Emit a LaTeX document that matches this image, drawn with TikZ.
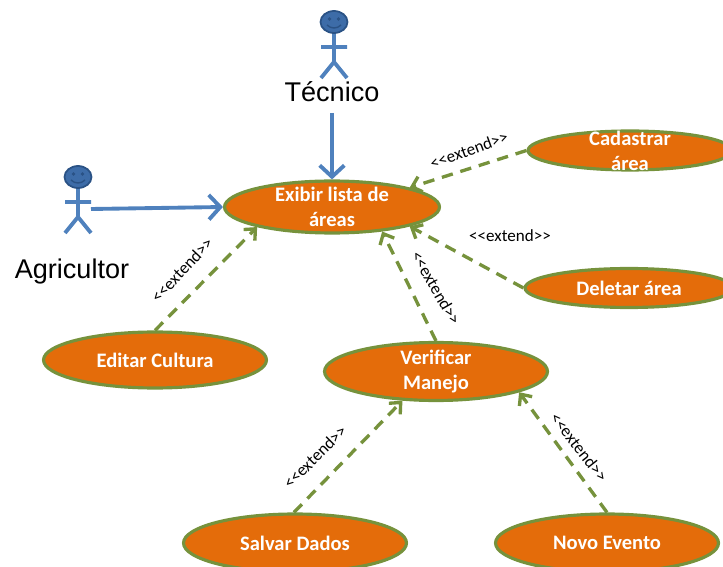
\documentclass[tikz,border=0pt]{standalone}
\usepackage{fontspec}
\setmainfont{Carlito}
\newfontfamily\actorfont{Liberation Sans}
\usetikzlibrary{shapes.geometric}
\usetikzlibrary{arrows.meta}
\definecolor{caseorange}{HTML}{E46C0A}
\definecolor{casegreen}{HTML}{76923C}
\definecolor{actorblue}{HTML}{4F81BD}
\definecolor{headblue}{HTML}{3D6CA8}
\definecolor{headline}{HTML}{2A5285}
\newcommand{\extendtext}{<{}<extend>{}>}
\tikzset{
  usecase/.style={ellipse,draw=casegreen,line width=1.8pt,fill=caseorange,text=white,
    font=\fontsize{11.7}{14.2}\selectfont\bfseries,align=center,inner xsep=0pt,inner ysep=-6pt},
  extendlabel/.style={font=\fontsize{9.7}{11}\selectfont,inner sep=0pt},
  actorname/.style={font=\fontsize{15.4}{18}\selectfont\actorfont,inner sep=0pt},
  extendline/.style={line width=1.9pt,casegreen,dash pattern=on 6.5pt off 4.5pt,
    -{Straight Barb[length=5pt,width=9pt,line width=1.9pt]}},
  actorline/.style={line width=2.2pt,actorblue,
    -{Straight Barb[length=6.5pt,width=14pt,line width=2.2pt]}},
  actor/.pic={
    \draw[line width=2.2pt,actorblue] (0,11) -- (0,40) (-13,25) -- (13,25)
      (-13,56) -- (0,40) -- (13,56);
    \draw[line width=1pt,draw=headline,fill=headblue] (0,0) ellipse (13.5 and 11);
    \fill[headline] (-4.5,-3) circle (1.8) (4.5,-3) circle (1.8);
    \draw[line width=0.8pt,headline] (-7,3) .. controls (-3,7) and (3,7) .. (7,3);
  }
}
\begin{document}
\begin{tikzpicture}[x=0.02cm,y=-0.02cm]
\useasboundingbox (0,0) rectangle (723,567);
\clip (0,0) rectangle (723,567);
%%%%%actors
\pic (tecnico) at (334,22) {actor};
\pic (agricultor) at (78,177) {actor};
\node[actorname] (tecniconame) at (332,92) {Técnico};
\node[actorname] (agricultorname) at (72,272) {Agricultor};
\coordinate (tecnicofoot) at (332,113);
\coordinate (agricultorhand) at (91,209);
%%%%%use cases
\node[usecase,minimum width=4.3cm,minimum height=1.04cm] (exibir) at (332,207) {Exibir lista de\\áreas};
\node[usecase,minimum width=4.08cm,minimum height=0.78cm] (cadastrar) at (630,150.5) {Cadastrar\\área};
\node[usecase,minimum width=4.16cm,minimum height=0.78cm] (deletar) at (629,288) {Deletar área};
\node[usecase,minimum width=4.46cm,minimum height=1.12cm] (editar) at (155,360) {Editar Cultura};
\node[usecase,minimum width=4.46cm,minimum height=1.16cm] (verificar) at (436,371.5) {Verificar\\Manejo};
\node[usecase,minimum width=4.46cm,minimum height=1.16cm] (salvar) at (295,543) {Salvar Dados};
\node[usecase,minimum width=4.46cm,minimum height=1.16cm] (novo) at (607,543) {Novo Evento};
%%%%%actor arrows
\draw[actorline] (tecnicofoot) -- (exibir.north);
\draw[actorline] (agricultorhand) -- (exibir.west);
%%%%%extend arrows
\draw[extendline] (cadastrar.west) -- (exibir.14);
\draw[extendline] (deletar.west) -- (exibir.-14);
\draw[extendline] (verificar.north) -- (exibir.-26);
\draw[extendline] (editar.north) -- (exibir.-165.5);
\draw[extendline] (salvar.92) -- (verificar.-139);
\draw[extendline] (novo.north) -- (verificar.-14);
%%%%%extend labels
\node[extendlabel,rotate=20] (cadastrarlabel) at (469,150) {\extendtext};
\node[extendlabel] (deletarlabel) at (510,236) {\extendtext};
\node[extendlabel,rotate=-60] (verificarlabel) at (436,288) {\extendtext};
\node[extendlabel,rotate=47] (editarlabel) at (182,270) {\extendtext};
\node[extendlabel,rotate=45] (salvarlabel) at (315,457) {\extendtext};
\node[extendlabel,rotate=-52] (novolabel) at (579,447) {\extendtext};
\end{tikzpicture}
\end{document}
